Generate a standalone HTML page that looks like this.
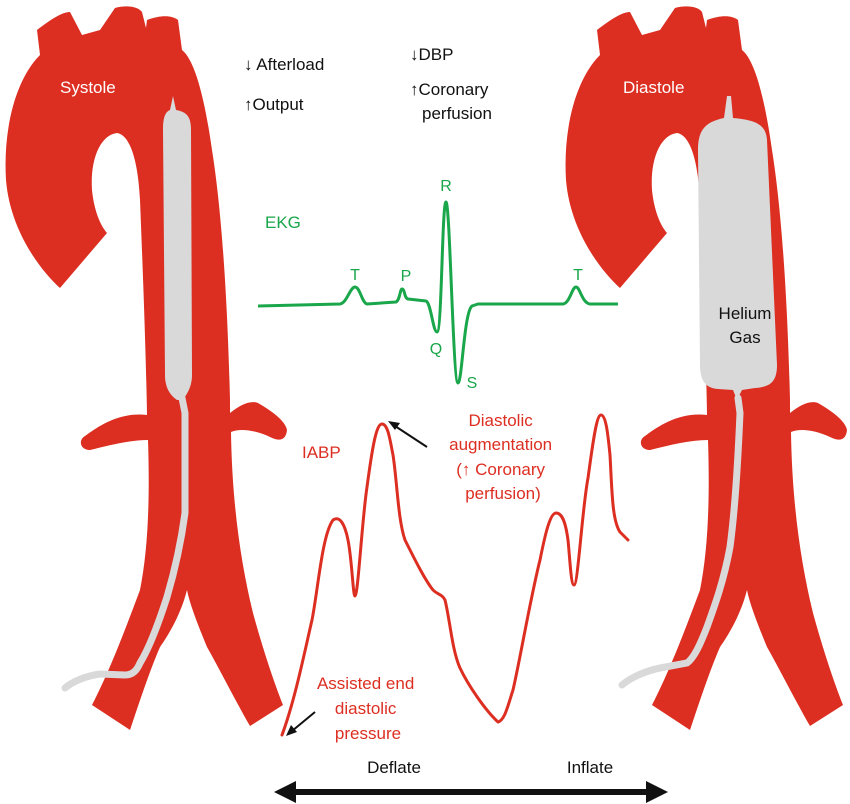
<!DOCTYPE html>
<html><head><meta charset="utf-8"><style>
html,body{margin:0;padding:0;background:#fff;}
svg{display:block;}
text{font-family:"Liberation Sans",Arial,sans-serif;}
</style></head><body>
<svg width="850" height="804" viewBox="0 0 850 804" xmlns="http://www.w3.org/2000/svg">
<defs>
<g id="aorta">
<path fill="#dd2e22" d="M60,288 C40,270 10,230 6,180 C3,130 15,80 40,55 L37,30 C50,20 62,12 70,12 L82,35 L100,30 L115,8 C125,5 138,6 142,12 L146,28 L147,20 C160,15 172,15 178,20 L182,50 C195,60 205,100 212,150 C220,200 227,280 230,400 L230,413 C240,405 250,400 258,403 C270,410 285,420 287,430 C286,440 280,442 270,437 C255,430 240,428 231,432 C232,500 240,560 253,613 C263,650 275,685 283,705 L250,726 C235,700 220,670 207,647 C198,625 190,605 187,590 C182,610 172,630 160,647 C150,670 140,700 130,730 L92,705 C110,670 125,630 140,590 C148,550 150,500 148,440 C130,440 110,445 90,450 C80,450 78,440 85,436 C100,425 120,412 147,415 C146,350 142,250 140,200 C138,160 130,135 117,133 C100,135 90,160 92,190 C94,210 100,225 107,233 Z"/>
</g>
</defs>
<use href="#aorta"/>
<use href="#aorta" transform="translate(560,0)"/>

<!-- left balloon + catheter -->
<path fill="#d9d9da" d="M170,110 L173,96 L176,110 C188,112 191,118 191,130 L192,375 C192,388 186,395 183,400 L177,400 C170,395 165,388 165,375 L163,130 C163,118 165,112 170,110 Z"/>
<path fill="none" stroke="#d9d9da" stroke-width="7" stroke-linecap="round" d="M182,398 L185,413 L185,513 C180,550 172,580 167,597 C158,625 148,650 140,663 C137,670 133,675 125,675 L100,674 C85,676 72,682 65,688"/>

<!-- right balloon + catheter -->
<path fill="#d9d9da" d="M724,118 L727,96 L731,96 L733,118 C755,120 766,124 767,140 L777,365 C777,382 770,387 755,388 L742,390 L737,400 L733,390 L718,389 C705,388 700,380 700,365 L698,150 C698,130 705,122 724,118 Z"/>
<path fill="none" stroke="#d9d9da" stroke-width="7" stroke-linecap="round" d="M738,398 L740,413 C738,460 735,510 730,547 C724,580 715,605 707,627 C700,645 694,658 687,663 L660,668 C645,671 630,678 622,685"/>

<!-- labels on aortas -->
<text x="60" y="93" font-size="17" fill="#fff">Systole</text>
<text x="623" y="93" font-size="17" fill="#fff">Diastole</text>
<text x="745" y="319" font-size="17" fill="#111" text-anchor="middle">Helium</text>
<text x="745" y="343" font-size="17" fill="#111" text-anchor="middle">Gas</text>

<!-- top texts -->
<text x="244" y="70" font-size="17" fill="#111">↓ Afterload</text>
<text x="244" y="110" font-size="17" fill="#111">↑Output</text>
<text x="410" y="60" font-size="17" fill="#111">↓DBP</text>
<text x="410" y="95" font-size="17" fill="#111">↑Coronary</text>
<text x="422" y="119" font-size="17" fill="#111">perfusion</text>

<!-- EKG -->
<text x="265" y="228" font-size="17" fill="#1aa64a">EKG</text>
<path fill="none" stroke="#1aa64a" stroke-width="3" stroke-linejoin="round" d="M258,306 L340,304 C347,303 350,287 355,287 C360,287 362,303 367,304 L396,302 C400,300 400,289 402,289 C405,289 404,298 408,299 L426,301 C431,303 433,332 437,332 C442,332 442,202 446,202 C450,202 453,383 458,383 C462,383 464,312 472,306 L478,304 L563,304 C570,303 572,287 576,287 C580,287 582,303 590,304 L618,304"/>
<text x="355" y="280" font-size="16" fill="#1aa64a" text-anchor="middle">T</text>
<text x="406" y="281" font-size="16" fill="#1aa64a" text-anchor="middle">P</text>
<text x="446" y="191" font-size="16" fill="#1aa64a" text-anchor="middle">R</text>
<text x="436" y="354" font-size="16" fill="#1aa64a" text-anchor="middle">Q</text>
<text x="472" y="388" font-size="16" fill="#1aa64a" text-anchor="middle">S</text>
<text x="578" y="280" font-size="16" fill="#1aa64a" text-anchor="middle">T</text>

<!-- IABP -->
<text x="302" y="458" font-size="17" fill="#dd2e22">IABP</text>
<path fill="none" stroke="#dd2e22" stroke-width="3" stroke-linejoin="round" stroke-linecap="round" d="M282,735 C295,700 305,650 312,620 C318,590 322,535 333,520 C340,515 345,525 348,540 C352,560 353,596 355,596 C358,596 362,520 367,487 C372,450 376,424 382,424 C388,424 390,440 393,455 C397,480 398,520 405,540 C415,560 425,580 433,590 C438,595 442,594 445,600 C450,620 452,650 460,668 C468,685 485,710 498,722 C505,720 508,705 513,690 C520,660 530,600 540,560 C545,535 550,513 556,513 C563,513 566,525 568,540 C570,560 571,585 574,585 C578,585 582,510 588,478 C592,450 596,415 601,415 C606,415 608,435 610,455 C612,490 612,520 620,532 L628,540"/>
<text font-size="17" fill="#dd2e22" text-anchor="middle">
<tspan x="503" y="426">Diastolic</tspan>
<tspan x="503" y="450">augmentation</tspan>
<tspan x="503" y="475">(↑ Coronary</tspan>
<tspan x="503" y="499">perfusion)</tspan>
</text>
<line x1="427" y1="447" x2="395" y2="426" stroke="#111" stroke-width="2"/>
<polygon points="388,421 400,423 395,430" fill="#111"/>
<text font-size="17" fill="#dd2e22" text-anchor="middle">
<tspan x="368" y="689">Assisted end</tspan>
<tspan x="368" y="714">diastolic</tspan>
<tspan x="368" y="739">pressure</tspan>
</text>
<line x1="315" y1="712" x2="292" y2="731" stroke="#111" stroke-width="2"/>
<polygon points="286,736 291,725 297,732" fill="#111"/>

<!-- bottom arrow -->
<text x="394" y="773" font-size="17" fill="#111" text-anchor="middle">Deflate</text>
<text x="590" y="773" font-size="17" fill="#111" text-anchor="middle">Inflate</text>
<line x1="290" y1="792" x2="650" y2="792" stroke="#111" stroke-width="6"/>
<polygon points="274,792 296,781 296,803" fill="#111"/>
<polygon points="668,792 646,781 646,803" fill="#111"/>
</svg>
</body></html>
